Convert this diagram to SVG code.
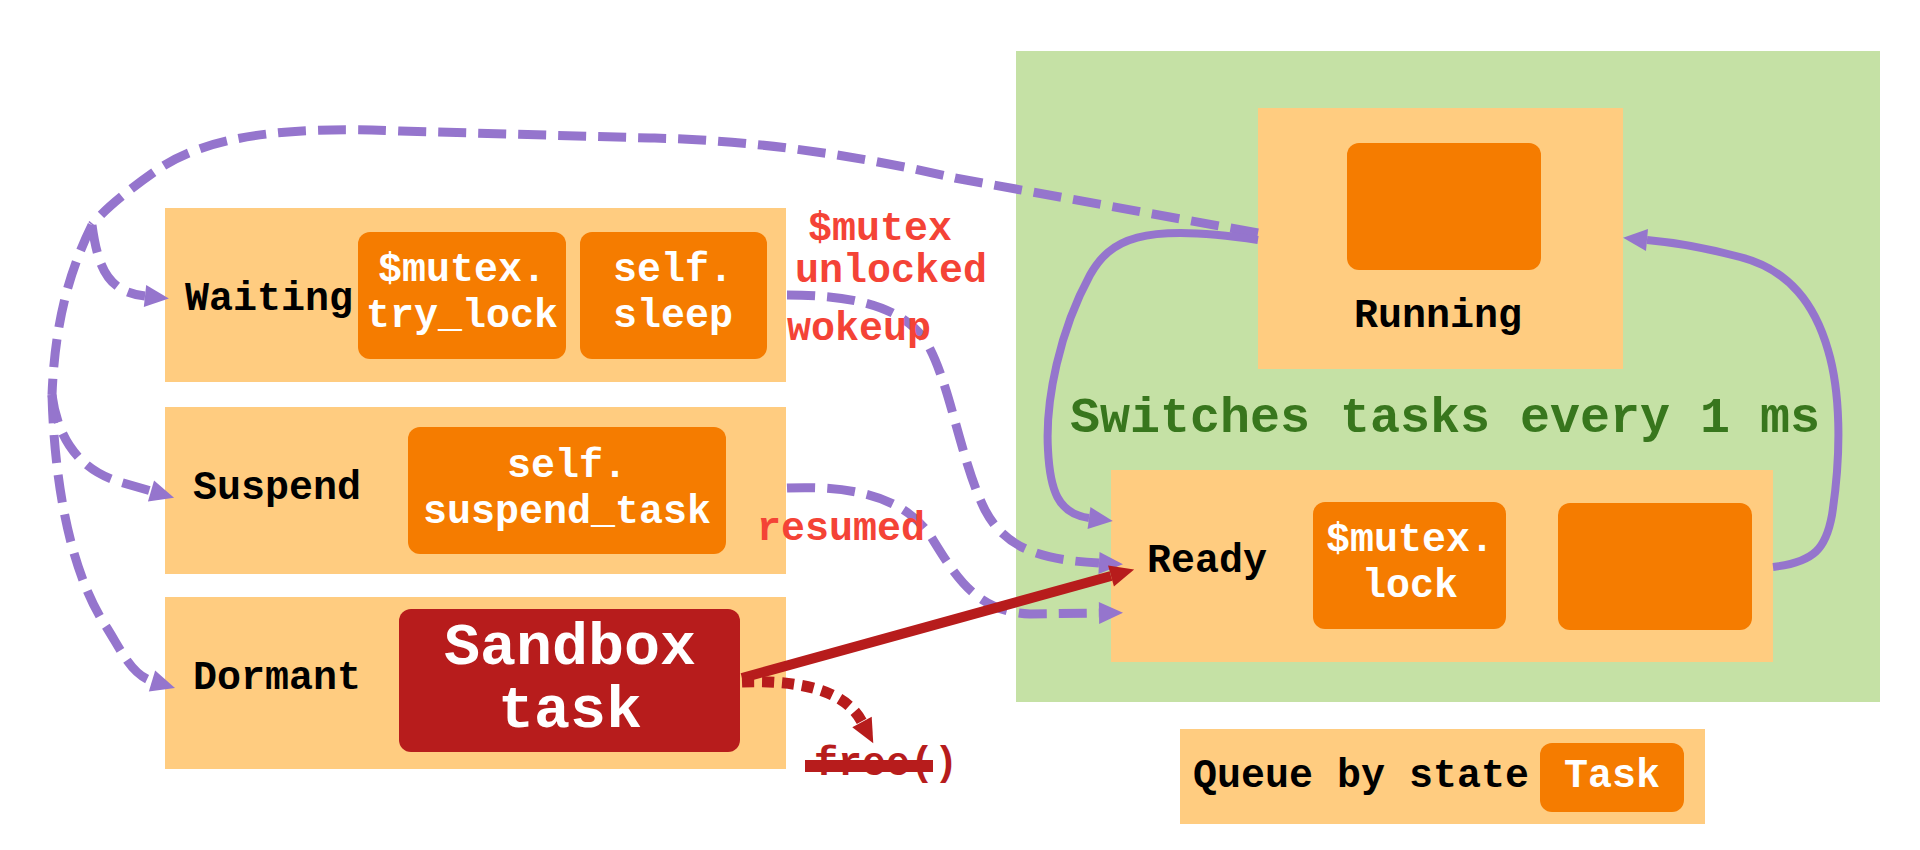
<svg xmlns="http://www.w3.org/2000/svg" width="1920" height="850" viewBox="0 0 1920 850">
<style>
.q{fill:#ffcc80}
.t{fill:#f57c00}
.lbl{font-family:"Liberation Mono","Courier New",monospace;font-weight:bold;font-size:40px;fill:#000}
.w{font-family:"Liberation Mono","Courier New",monospace;font-weight:bold;font-size:40px;fill:#fff;text-anchor:middle}
.big{font-family:"Liberation Mono","Courier New",monospace;font-weight:bold;font-size:60px;fill:#fff;text-anchor:middle}
.red{font-family:"Liberation Mono","Courier New",monospace;font-weight:bold;font-size:40px;fill:#f44336}
.dash{fill:none;stroke:#9575cd;stroke-width:9;stroke-dasharray:28 12}
.solid{fill:none;stroke:#9575cd;stroke-width:8}
</style>
<defs>
<marker id="ap" markerUnits="userSpaceOnUse" markerWidth="24" markerHeight="24" refX="0" refY="11" orient="auto" overflow="visible">
<path d="M0,0 L24,11 L0,22 z" fill="#9575cd"/>
</marker>
<marker id="ar" markerUnits="userSpaceOnUse" markerWidth="24" markerHeight="24" refX="0" refY="11" orient="auto" overflow="visible">
<path d="M0,0 L24,11 L0,22 z" fill="#b71c1c"/>
</marker>
</defs>
<rect width="1920" height="850" fill="#fff"/>

<g id="scheduler">
<rect x="1016" y="51" width="864" height="651" fill="#c5e1a5"/>
<text x="1070" y="432" font-family="Liberation Mono, Courier New, monospace" font-weight="bold" font-size="50" fill="#38761d">Switches tasks every 1 ms</text>
</g>

<g id="waiting">
<rect class="q" x="165" y="208" width="621" height="174"/>
<text class="lbl" x="185" y="310">Waiting</text>
<rect class="t" x="358" y="232" width="208" height="127" rx="12"/>
<text class="w" x="462" y="281">$mutex.</text>
<text class="w" x="462" y="327">try_lock</text>
<rect class="t" x="580" y="232" width="187" height="127" rx="12"/>
<text class="w" x="673" y="281">self.</text>
<text class="w" x="673" y="327">sleep</text>
</g>

<g id="suspend">
<rect class="q" x="165" y="407" width="621" height="167"/>
<text class="lbl" x="193" y="499">Suspend</text>
<rect class="t" x="408" y="427" width="318" height="127" rx="12"/>
<text class="w" x="567" y="477">self.</text>
<text class="w" x="567" y="523">suspend_task</text>
</g>

<g id="dormant">
<rect class="q" x="165" y="597" width="621" height="172"/>
<text class="lbl" x="193" y="689">Dormant</text>
<rect x="399" y="609" width="341" height="143" rx="12" fill="#b71c1c"/>
<text class="big" x="570" y="664">Sandbox</text>
<text class="big" x="570" y="727">task</text>
</g>

<g id="running">
<rect class="q" x="1258" y="108" width="365" height="261"/>
<rect class="t" x="1347" y="143" width="194" height="127" rx="12"/>
<text class="lbl" x="1438" y="327" text-anchor="middle">Running</text>
</g>

<g id="ready">
<rect class="q" x="1111" y="470" width="662" height="192"/>
<text class="lbl" x="1147" y="572">Ready</text>
<rect class="t" x="1313" y="502" width="193" height="127" rx="12"/>
<text class="w" x="1410" y="551">$mutex.</text>
<text class="w" x="1410" y="597">lock</text>
<rect class="t" x="1558" y="503" width="194" height="127" rx="12"/>
</g>

<g id="legend">
<rect class="q" x="1180" y="729" width="525" height="95"/>
<text class="lbl" x="1193" y="787">Queue by state</text>
<rect class="t" x="1540" y="743" width="144" height="69" rx="12"/>
<text class="w" x="1612" y="787">Task</text>
</g>

<g id="connectors">
<path class="dash" d="M1258,233 L955,178 C870,158 760,140 650,138 L400,131 C290,126 210,135 160,168 C125,192 102,212 92,225"/>
<path class="dash" d="M92,225 C98,268 108,292 145,296" marker-end="url(#ap)"/>
<path class="dash" d="M92,225 C70,270 55,320 52,395"/>
<path class="dash" d="M52,395 C58,440 80,470 120,482 L151,491" marker-end="url(#ap)"/>
<path class="dash" d="M52,395 C55,500 75,580 107,628 C122,652 132,675 152,681" marker-end="url(#ap)"/>
<path class="solid" d="M1258,240 C1140,222 1110,240 1090,275 C1060,330 1045,400 1048,450 C1050,490 1058,514 1089,518" marker-end="url(#ap)"/>
<path class="solid" d="M1773,567 C1815,562 1826,548 1832,515 C1842,450 1840,390 1828,350 C1815,305 1790,270 1740,257 C1710,249 1680,243 1647,240" marker-end="url(#ap)"/>
<path class="dash" d="M787,295 C850,295 900,305 925,340 C950,380 960,460 985,510 C1005,548 1040,560 1099,563" marker-end="url(#ap)"/>
<path class="dash" d="M787,488 C860,485 905,500 930,535 C955,575 975,612 1030,614 L1099,613" marker-end="url(#ap)"/>
<path d="M742,678 L1111,576" stroke="#b71c1c" stroke-width="10" fill="none" marker-end="url(#ar)"/>
<path d="M742,682 C800,680 845,690 862,722" stroke="#b71c1c" stroke-width="11" stroke-dasharray="12 8" fill="none" marker-end="url(#ar)"/>
</g>

<g id="labels">
<text class="red" x="808" y="240">$mutex</text>
<text class="red" x="795" y="282">unlocked</text>
<text class="red" x="787" y="340">wokeup</text>
<text class="red" x="757" y="540">resumed</text>
<text x="814" y="775" font-family="Liberation Mono, Courier New, monospace" font-weight="bold" font-size="40" fill="#b71c1c">free()</text>
<line x1="805" y1="766" x2="933" y2="766" stroke="#b71c1c" stroke-width="12"/>
</g>
</svg>
